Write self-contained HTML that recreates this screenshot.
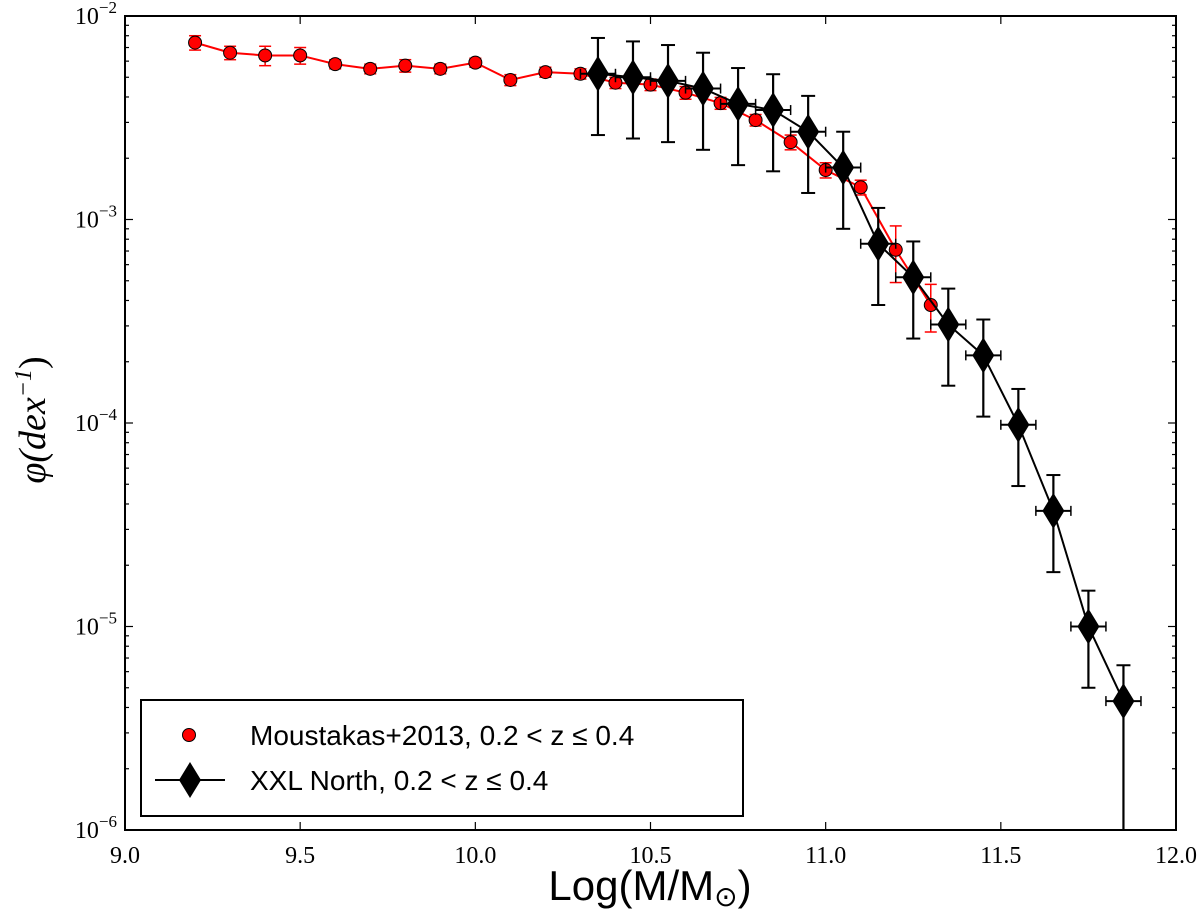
<!DOCTYPE html>
<html><head><meta charset="utf-8"><style>
html,body{margin:0;padding:0;background:#fff;width:1200px;height:916px;overflow:hidden;}
svg{display:block;overflow:hidden;}
</style></head><body>
<svg id="chart" width="1200" height="916" xmlns="http://www.w3.org/2000/svg"></svg>
<script>
const redX=[9.2,9.3,9.4,9.5,9.6,9.7,9.8,9.9,10.0,10.1,10.2,10.3,10.4,10.5,10.6,10.7,10.8,10.9,11.0,11.1,11.2,11.3];
const redY=[7.4e-3,6.6e-3,6.4e-3,6.4e-3,5.8e-3,5.5e-3,5.7e-3,5.5e-3,5.9e-3,4.85e-3,5.3e-3,5.2e-3,4.7e-3,4.6e-3,4.2e-3,3.73e-3,3.08e-3,2.4e-3,1.75e-3,1.44e-3,7.1e-4,3.8e-4];
const redErr=[0.6e-3,0.5e-3,0.7e-3,0.6e-3,0.3e-3,0.3e-3,0.4e-3,0.3e-3,0.3e-3,0.3e-3,0.3e-3,0.3e-3,0.3e-3,0.3e-3,0.3e-3,0.25e-3,0.2e-3,0.2e-3,0.15e-3,0.12e-3,2.2e-4,1.0e-4];
const blkX=[10.35,10.45,10.55,10.65,10.75,10.85,10.95,11.05,11.15,11.25,11.35,11.45,11.55,11.65,11.75,11.85];
const blkY=[5.2e-3,5.0e-3,4.8e-3,4.4e-3,3.7e-3,3.45e-3,2.7e-3,1.8e-3,7.6e-4,5.2e-4,3.05e-4,2.15e-4,9.8e-5,3.7e-5,1.0e-5,4.3e-6];
const blkErrUp=[0.5,0.5,0.5,0.5,0.5,0.5,0.5,0.5,0.5,0.5,0.5,0.5,0.5,0.5,0.5,0.5];
const blkErrLo=[0.5,0.5,0.5,0.5,0.5,0.5,0.5,0.5,0.5,0.5,0.5,0.5,0.5,0.5,0.5,1.0];
const blkXErr=0.05;
const xTicks=[9.0,9.5,10.0,10.5,11.0,11.5,12.0];
const xTickLabels=["9.0","9.5","10.0","10.5","11.0","11.5","12.0"];
const yDecades=[-2,-3,-4,-5,-6];

const L=125,R=1176,T=16,B=830;
const xs=v=>L+(v-9)/3*(R-L);
const ys=v=>Math.min(B,Math.max(T,T+(-2-Math.log10(Math.max(v,1e-9)))/4*(B-T)));
const svg=document.getElementById('chart');
const NS='http://www.w3.org/2000/svg';
function mk(tag,attrs,parent){const e=document.createElementNS(NS,tag);for(const k in attrs)e.setAttribute(k,attrs[k]);(parent||svg).appendChild(e);return e;}

const defs=mk('defs',{});
const cp=mk('clipPath',{id:'clip'},defs);
mk('rect',{x:L,y:T,width:R-L,height:B-T},cp);

const tickG=mk('g',{stroke:'#000','stroke-width':1.2});


xTicks.forEach((v,i)=>{
  const x=xs(v);
  mk('line',{x1:x,y1:B,x2:x,y2:B-8},tickG);
  mk('line',{x1:x,y1:T,x2:x,y2:T+8},tickG);
  const t=mk('text',{x:x,y:B+33,'text-anchor':'middle','font-family':'Liberation Serif, serif','font-size':24});
  t.textContent=xTickLabels[i];
  
  
});
yDecades.forEach(d=>{
  const y=ys(Math.pow(10,d));
  mk('line',{x1:L,y1:y,x2:L+8,y2:y},tickG);
  mk('line',{x1:R,y1:y,x2:R-8,y2:y},tickG);
  if(d>-6){for(let m=2;m<10;m++){const yy=ys(m*Math.pow(10,d-1));mk('line',{x1:L,y1:yy,x2:L+4,y2:yy},tickG);mk('line',{x1:R,y1:yy,x2:R-4,y2:yy},tickG);}}
  const t=mk('text',{x:L-8,y:y+8,'text-anchor':'end','font-family':'Liberation Serif, serif','font-size':24});
  t.innerHTML='10<tspan dy="-11" font-size="17">−'+(-d)+'</tspan>';
  
  
});

const plot=mk('g',{'clip-path':'url(#clip)'});
const rg=mk('g',{},plot);


redX.forEach((x,i)=>{
  const cx=xs(x),y1=ys(redY[i]+redErr[i]),y2=ys(redY[i]-redErr[i]);
  mk('line',{x1:cx,y1:y1,x2:cx,y2:y2,stroke:'#f00','stroke-width':1.5},rg);
  mk('line',{x1:cx-6,y1:y1,x2:cx+6,y2:y1,stroke:'#f00','stroke-width':1.5},rg);
  mk('line',{x1:cx-6,y1:y2,x2:cx+6,y2:y2,stroke:'#f00','stroke-width':1.5},rg);
});
mk('polyline',{points:redX.map((x,i)=>xs(x)+','+ys(redY[i])).join(' '),fill:'none',stroke:'#f00','stroke-width':2},rg);
redX.forEach((x,i)=>{
  const c=mk('circle',{cx:xs(x),cy:ys(redY[i]),r:6.5,fill:'#f00',stroke:'#000','stroke-width':1},rg);
  
  
});
const bg=mk('g',{},plot);


blkX.forEach((x,i)=>{
  const cx=xs(x),cy=ys(blkY[i]);
  const y1=ys(blkY[i]*(1+blkErrUp[i])),y2=ys(blkY[i]*(1-blkErrLo[i]));
  const xa=xs(x-blkXErr),xb=xs(x+blkXErr);
  mk('line',{x1:cx,y1:y1,x2:cx,y2:y2,stroke:'#000','stroke-width':2.2},bg);
  mk('line',{x1:cx-7,y1:y1,x2:cx+7,y2:y1,stroke:'#000','stroke-width':2},bg);
  if(y2<B) mk('line',{x1:cx-7,y1:y2,x2:cx+7,y2:y2,stroke:'#000','stroke-width':2},bg);
  mk('line',{x1:xa,y1:cy,x2:xb,y2:cy,stroke:'#000','stroke-width':2},bg);
  mk('line',{x1:xa,y1:cy-5,x2:xa,y2:cy+5,stroke:'#000','stroke-width':1.5},bg);
  mk('line',{x1:xb,y1:cy-5,x2:xb,y2:cy+5,stroke:'#000','stroke-width':1.5},bg);
});
mk('polyline',{points:blkX.map((x,i)=>xs(x)+','+ys(blkY[i])).join(' '),fill:'none',stroke:'#000','stroke-width':2},bg);
blkX.forEach((x,i)=>{
  const cx=xs(x),cy=ys(blkY[i]);
  const d=mk('polygon',{points:`${cx},${cy-18} ${cx+11},${cy} ${cx},${cy+18} ${cx-11},${cy}`,fill:'#000'},bg);
  
  
});

const fr=mk('rect',{x:L,y:T,width:R-L,height:B-T,fill:'none',stroke:'#000','stroke-width':2});



const lg=mk('g',{});


mk('rect',{x:141,y:700,width:602,height:116,fill:'#fff',stroke:'#000','stroke-width':2},lg);
mk('circle',{cx:189,cy:735,r:6.5,fill:'#f00',stroke:'#000','stroke-width':1},lg);
const t1=mk('text',{x:250,y:745,'font-family':'Liberation Sans, sans-serif','font-size':28},lg);
t1.textContent='Moustakas+2013, 0.2 < z ≤ 0.4';


mk('line',{x1:155,y1:780,x2:225,y2:780,stroke:'#000','stroke-width':2},lg);
mk('polygon',{points:'190,762 201,780 190,798 179,780',fill:'#000'},lg);
const t2=mk('text',{x:250,y:790,'font-family':'Liberation Sans, sans-serif','font-size':28},lg);
t2.textContent='XXL North, 0.2 < z ≤ 0.4';



const xt=mk('text',{x:650,y:900,'text-anchor':'middle','font-family':'Liberation Sans, sans-serif','font-size':42});
xt.innerHTML='Log(M/M<tspan dy="6" font-size="28">⊙</tspan><tspan dy="-6">)</tspan>';


const yt=mk('text',{x:0,y:0,'text-anchor':'middle','font-family':'Liberation Serif, serif','font-size':38,'font-style':'italic',transform:'translate(45,420) rotate(-90)'});
yt.innerHTML='φ(dex<tspan dy="-14" font-size="24">−1</tspan><tspan dy="14" font-style="normal">)</tspan>';


</script>
</body></html>
